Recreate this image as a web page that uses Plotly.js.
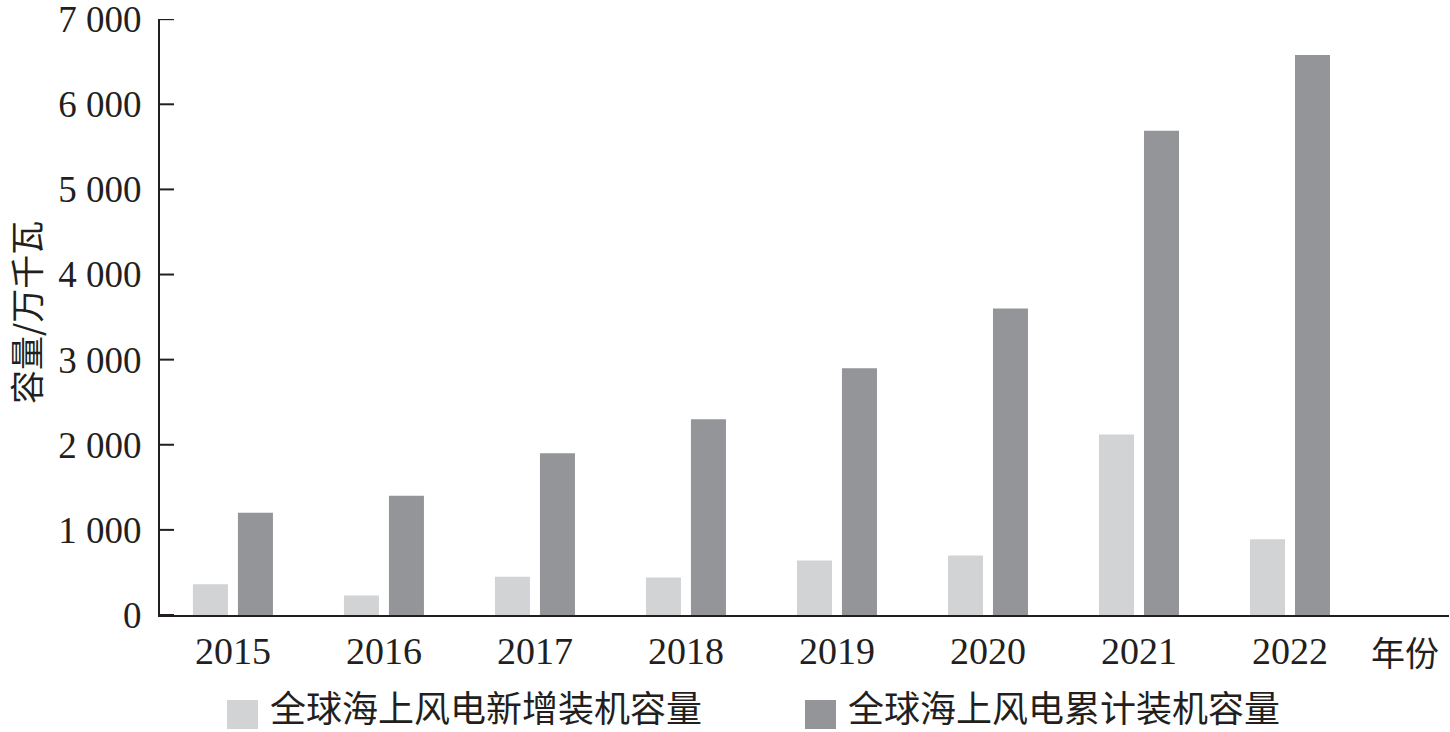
<!DOCTYPE html>
<html>
<head>
<meta charset="utf-8">
<script src="https://cdn.plot.ly/plotly-3.0.1.min.js"></script>
<style>html,body{margin:0;padding:0;background:#fff;}#chart{width:1450px;height:732px;}</style>
</head>
<body>
<div id="chart"></div>
<script>
var years = ['2015','2016','2017','2018','2019','2020','2021','2022'];
var newCapacity = [360, 230, 450, 440, 640, 700, 2120, 890];
var cumCapacity = [1200, 1400, 1900, 2300, 2900, 3600, 5690, 6580];
var seriesNames = ['全球海上风电新增装机容量', '全球海上风电累计装机容量'];
var seriesColors = ['#d1d3d4', '#939598'];
var yTickVals = [0, 1000, 2000, 3000, 4000, 5000, 6000, 7000];
var yTitle = '容量/万千瓦';
var xUnit = '年份';

var serif = '"Liberation Serif", "Times New Roman", serif';
var cjk = '"Noto Sans CJK SC", "Liberation Serif", sans-serif';
var ink = '#231f20';

var W = 1450, H = 732, L = 160, R = 1, T = 19, B = 117;
var pw = W - L - R, ph = H - T - B;
var xRange = [-0.483, 8.053];
function px(x){ return (x - L) / pw; }
function py(y){ return (H - B - y) / ph; }
var xUnitsPerPx = (xRange[1] - xRange[0]) / pw;

var traces = [
  {type:'bar', x: years, y: newCapacity, name: seriesNames[0], marker:{color: seriesColors[0]}, showlegend:false},
  {type:'bar', x: years, y: cumCapacity, name: seriesNames[1], marker:{color: seriesColors[1]}, showlegend:false}
];

var legendItems = [
  {sx0: 227, sx1: 258, tx: 268},
  {sx0: 805, sx1: 836, tx: 846}
];
var shapes = [], annotations = [];
// inward tick marks on the value axis
yTickVals.forEach(function(v){
  shapes.push({type:'line', xref:'x', yref:'y', layer:'above',
    x0: xRange[0], x1: xRange[0] + 14 * xUnitsPerPx, y0: v, y1: v,
    line:{color: ink, width: 2}});
});
legendItems.forEach(function(it, i){
  shapes.push({type:'rect', xref:'paper', yref:'paper', x0: px(it.sx0), x1: px(it.sx1), y0: py(729), y1: py(700),
    fillcolor: seriesColors[i], line:{width:0}});
  annotations.push({xref:'paper', yref:'paper', x: px(it.tx), y: py(706), xanchor:'left', yanchor:'middle',
    text: seriesNames[i], showarrow:false, font:{family: cjk, size: 36, color: ink}});
});
annotations.push({xref:'paper', yref:'paper', x: px(1405), y: py(651), xanchor:'center', yanchor:'middle',
  text: xUnit, showarrow:false, font:{family: cjk, size: 34, color: ink}});
// value-axis title
annotations.push({xref:'paper', yref:'paper', x: px(25), y: py(313), xanchor:'center', yanchor:'middle',
  textangle: -90, text: yTitle, showarrow:false, font:{family: cjk, size: 34, color: ink}});

var layout = {
  width: W, height: H,
  margin: {l: L, r: R, t: T, b: B, pad: 0},
  paper_bgcolor: '#fff', plot_bgcolor: '#fff',
  separators: '. ',
  barmode: 'group', bargap: 0.404, bargroupgap: 0.222,
  showlegend: false,
  xaxis: {
    type: 'category', range: xRange, showgrid: false, zeroline: false,
    showline: true, linecolor: ink, linewidth: 2, ticks: '',
    tickfont: {family: serif, size: 38, color: ink}, ticklabelstandoff: 1,
    automargin: false, fixedrange: true
  },
  yaxis: {
    range: [0, 7002], tickvals: yTickVals, tickformat: ',d',
    showgrid: false, zeroline: false, showline: true, linecolor: ink, linewidth: 2,
    ticks: '', ticklabeloverflow: 'allow',
    tickfont: {family: serif, size: 37, color: ink}, ticklabelstandoff: 9,
    automargin: false, fixedrange: true
  },
  shapes: shapes,
  annotations: annotations
};

Plotly.newPlot('chart', traces, layout, {staticPlot: true, displayModeBar: false});
</script>
</body>
</html>
